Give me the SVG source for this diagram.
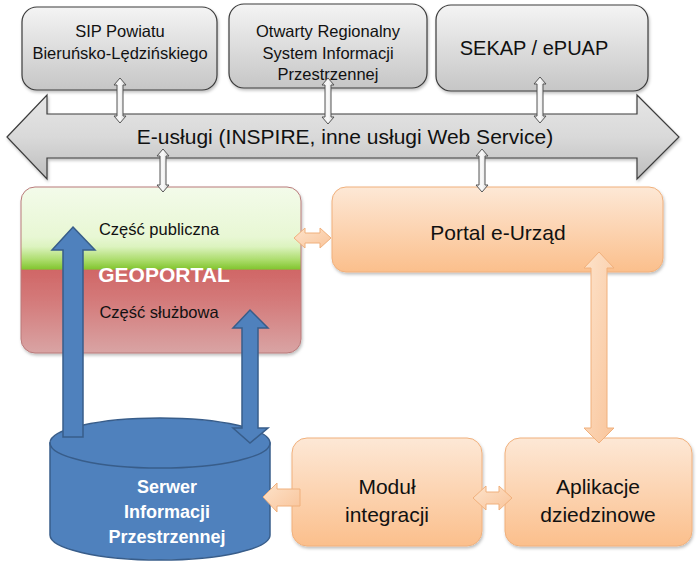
<svg xmlns="http://www.w3.org/2000/svg" width="699" height="564" viewBox="0 0 699 564">
<style>
text{font-family:"Liberation Sans","Open Sans",Arial,sans-serif;text-anchor:middle;fill:#111}
.t16{font-size:16.5px}
.t21{font-size:21px}
.w{fill:#fff;font-weight:bold}
.gbox{fill:url(#gGray);stroke:#3c3c3c;stroke-width:1.2}
.obox{fill:url(#gOrange);stroke:#f0b07c;stroke-width:1}
.sarr{fill:url(#gSmall);stroke:#555;stroke-width:1}
.oarr{fill:url(#gOArr);stroke:#f0b07c;stroke-width:1}
.barr{fill:#4f81bd;stroke:#385d8a;stroke-width:1.5}
</style>
<defs>
<linearGradient id="gGray" x1="0" y1="0" x2="0" y2="1">
<stop offset="0" stop-color="#f4f4f4"/><stop offset="1" stop-color="#c6c6c6"/>
</linearGradient>
<linearGradient id="gBig" x1="0" y1="0" x2="0" y2="1">
<stop offset="0" stop-color="#e6e6e6"/><stop offset="0.5" stop-color="#d9d9d9"/><stop offset="1" stop-color="#bdbdbd"/>
</linearGradient>
<linearGradient id="gSmall" x1="0" y1="0" x2="1" y2="0">
<stop offset="0" stop-color="#e8e8e8"/><stop offset="0.5" stop-color="#fafafa"/><stop offset="1" stop-color="#cfcfcf"/>
</linearGradient>
<linearGradient id="gOrange" x1="0" y1="0" x2="0" y2="1">
<stop offset="0" stop-color="#fde8d6"/><stop offset="1" stop-color="#fbbf8c"/>
</linearGradient>
<linearGradient id="gOArr" x1="0" y1="0" x2="1" y2="1">
<stop offset="0" stop-color="#fde3cb"/><stop offset="1" stop-color="#f9c49a"/>
</linearGradient>
<linearGradient id="gGeo" x1="0" y1="0" x2="0" y2="1">
<stop offset="0" stop-color="#f3fbea"/>
<stop offset="0.3" stop-color="#e8f7d4"/>
<stop offset="0.36" stop-color="#dcf3bf"/>
<stop offset="0.44" stop-color="#abdc6a"/>
<stop offset="0.495" stop-color="#82c530"/>
<stop offset="0.5" stop-color="#d06666"/>
<stop offset="0.7" stop-color="#d47c7c"/>
<stop offset="1" stop-color="#d9a4a4"/>
</linearGradient>
<filter id="sh" x="-10%" y="-10%" width="120%" height="130%">
<feDropShadow dx="1" dy="2" stdDeviation="1.5" flood-color="#000" flood-opacity="0.25"/>
</filter>
</defs>

<g id="node-sip">
<rect class="gbox" x="22" y="7" width="195" height="83" rx="15" filter="url(#sh)"/>
<text class="t16" x="120" y="37">SIP Powiatu</text>
<text class="t16" x="120" y="59">Bieruńsko-Lędzińskiego</text>
</g>
<g id="node-orsip">
<rect class="gbox" x="229" y="4" width="198" height="84" rx="15" filter="url(#sh)"/>
<text class="t16" x="328" y="37">Otwarty Regionalny</text>
<text class="t16" x="328" y="59">System Informacji</text>
<text class="t16" x="328" y="80">Przestrzennej</text>
</g>
<g id="node-sekap">
<rect class="gbox" x="436" y="5" width="212" height="86" rx="15" filter="url(#sh)"/>
<text x="534" y="55" font-size="20">SEKAP / ePUAP</text>
</g>

<g id="node-eservices">
<path d="M7,137 L47,95 L47,114 L637,114 L637,95 L679,137 L637,179 L637,158 L47,158 L47,179 Z" fill="url(#gBig)" stroke="#3c3c3c" stroke-width="1.2" filter="url(#sh)"/>
<text class="t21" x="345" y="144">E-usługi (INSPIRE, inne usługi Web Service)</text>
</g>

<g id="node-geoportal">
<rect x="21" y="187" width="280" height="166" rx="14" fill="url(#gGeo)" stroke="#b97a7a" stroke-width="1" filter="url(#sh)"/>
<text class="t16" x="159" y="235">Część publiczna</text>
<text class="w" x="164" y="282" font-size="21">GEOPORTAL</text>
<text class="t16" x="159" y="318">Część służbowa</text>
</g>

<g id="node-portal">
<rect class="obox" x="332" y="187" width="331" height="85" rx="14" filter="url(#sh)"/>
<text class="t21" x="498" y="240">Portal e-Urząd</text>
</g>

<g id="node-modul">
<rect class="obox" x="292" y="438" width="190" height="108" rx="15" filter="url(#sh)"/>
<text class="t21" x="387" y="494">Moduł</text>
<text class="t21" x="387" y="522">integracji</text>
</g>

<g id="node-aplikacje">
<rect class="obox" x="505" y="438" width="187" height="108" rx="15" filter="url(#sh)"/>
<text class="t21" x="598" y="494">Aplikacje</text>
<text class="t21" x="598" y="522">dziedzinowe</text>
</g>

<g id="node-serwer">
<path d="M50,443 L50,535 A110,25 0 0 0 270,535 L270,443 Z" fill="#4f81bd" stroke="#385d8a" stroke-width="1.5"/>
<ellipse cx="160" cy="443" rx="110" ry="25" fill="#4f81bd" stroke="#385d8a" stroke-width="1.5"/>
<text class="w" x="167" y="493" font-size="18">Serwer</text>
<text class="w" x="167" y="518" font-size="18">Informacji</text>
<text class="w" x="167" y="543" font-size="18">Przestrzennej</text>
</g>

<g id="connectors">
<path class="sarr" d="M120,78 L126,85 L123,85 L123,116 L126,116 L120,123 L114,116 L117,116 L117,85 L114,85 Z"/>
<path class="sarr" d="M328,78 L334,85 L331,85 L331,117 L334,117 L328,124 L322,117 L325,117 L325,85 L322,85 Z"/>
<path class="sarr" d="M540,77 L546,84 L543,84 L543,116 L546,116 L540,123 L534,116 L537,116 L537,84 L534,84 Z"/>
<path class="sarr" d="M163,149 L169,156 L166,156 L166,185 L169,185 L163,192 L157,185 L160,185 L160,156 L157,156 Z"/>
<path class="sarr" d="M482,149 L488,156 L485,156 L485,185 L488,185 L482,192 L476,185 L479,185 L479,156 L476,156 Z"/>

<path class="oarr" d="M294,238 L305,228 L305,233 L320,233 L320,228 L331,238 L320,248 L320,243 L305,243 L305,248 Z"/>
<path class="oarr" d="M599,252 L614,268 L607,268 L607,428 L614,428 L599,443 L584,428 L591,428 L591,268 L584,268 Z"/>
<path class="oarr" d="M473,498 L486,486 L486,492 L499,492 L499,486 L512,498 L499,510 L499,504 L486,504 L486,510 Z"/>
<path class="oarr" d="M263,497 L277,483 L277,489 L300,489 L300,506 L277,506 L277,512 Z"/>

<path class="barr" d="M73,227 L95,250 L83,250 L83,437 L63,437 L63,250 L52,250 Z"/>
<path class="barr" d="M250,310 L268,328 L258,328 L258,428 L268,428 L250,443 L233,428 L242,428 L242,328 L233,328 Z"/>
</g>
</svg>
